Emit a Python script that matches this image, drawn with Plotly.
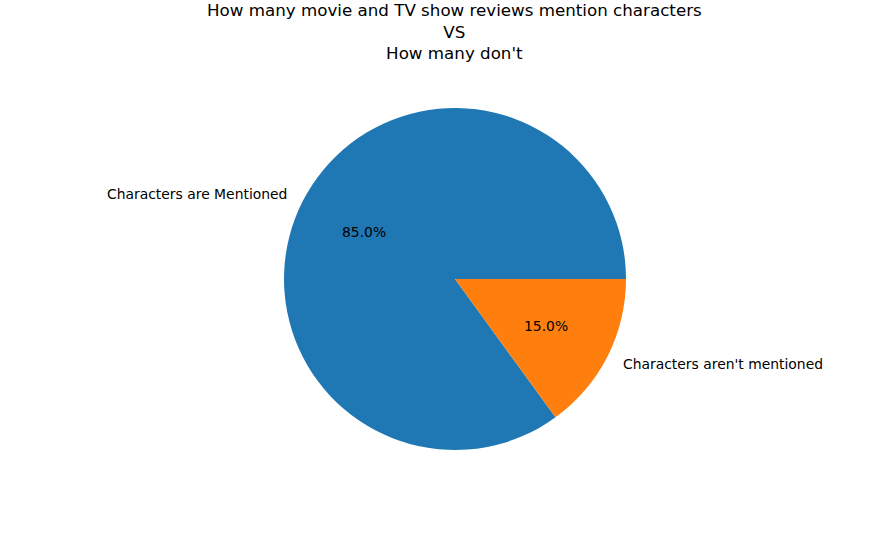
import math
import plotly.graph_objects as go

labels = ["Characters are Mentioned", "Characters aren't mentioned"]
values = [85.0, 15.0]
colors = ["#1f77b4", "#ff7f0e"]
title_lines = ["How many movie and TV show reviews mention characters", "VS", "How many don't"]

W, H = 888, 554
cx, cy, R = 455, 279, 171

total = sum(values)
# matplotlib-style: first wedge starts at 3 o'clock, counterclockwise
rotation = (90 - 360 * values[0] / total) % 360

fig = go.Figure()
fig.add_trace(go.Pie(
    labels=labels, values=values, sort=False, direction="counterclockwise",
    rotation=rotation, textinfo="none", hoverinfo="label+percent",
    marker=dict(colors=colors, line=dict(width=0)),
    domain=dict(x=[(cx - R) / W, (cx + R) / W], y=[1 - (cy + R) / H, 1 - (cy - R) / H]),
    showlegend=False,
))

start = 0.0
annotations = []
for lab, v in zip(labels, values):
    frac = v / total
    mid = (start + frac / 2) * 2 * math.pi
    start += frac
    c, s = math.cos(mid), math.sin(mid)
    lx, ly = cx + 1.1 * R * c, cy - 1.1 * R * s
    annotations.append(dict(
        text=lab, x=lx / W, y=1 - ly / H, xref="paper", yref="paper",
        xanchor="left" if c >= 0 else "right", yanchor="middle", showarrow=False,
        xshift=-2 if c >= 0 else 2,
        font=dict(size=13.9, color="black", family="DejaVu Sans")))
    px_, py_ = cx + 0.6 * R * c, cy - 0.6 * R * s
    annotations.append(dict(
        text=f"{100*frac:.1f}%", x=px_ / W, y=1 - py_ / H, xref="paper", yref="paper",
        xanchor="center", yanchor="middle", showarrow=False,
        font=dict(size=13.9, color="black", family="DejaVu Sans")))

annotations.append(dict(
    text="<br>".join(title_lines), x=454 / W, y=1 - 31.5 / H,
    xref="paper", yref="paper", xanchor="center", yanchor="middle", showarrow=False,
    align="center", font=dict(size=16.7, color="black", family="DejaVu Sans")))

fig.update_layout(
    width=W, height=H,
    margin=dict(l=0, r=0, t=0, b=0),
    paper_bgcolor="white", plot_bgcolor="white",
    font=dict(family="DejaVu Sans", color="black"),
    annotations=annotations,
)

fig.write_html("out.html", config={"displayModeBar": False},
               post_script="document.body.style.margin='0';")
